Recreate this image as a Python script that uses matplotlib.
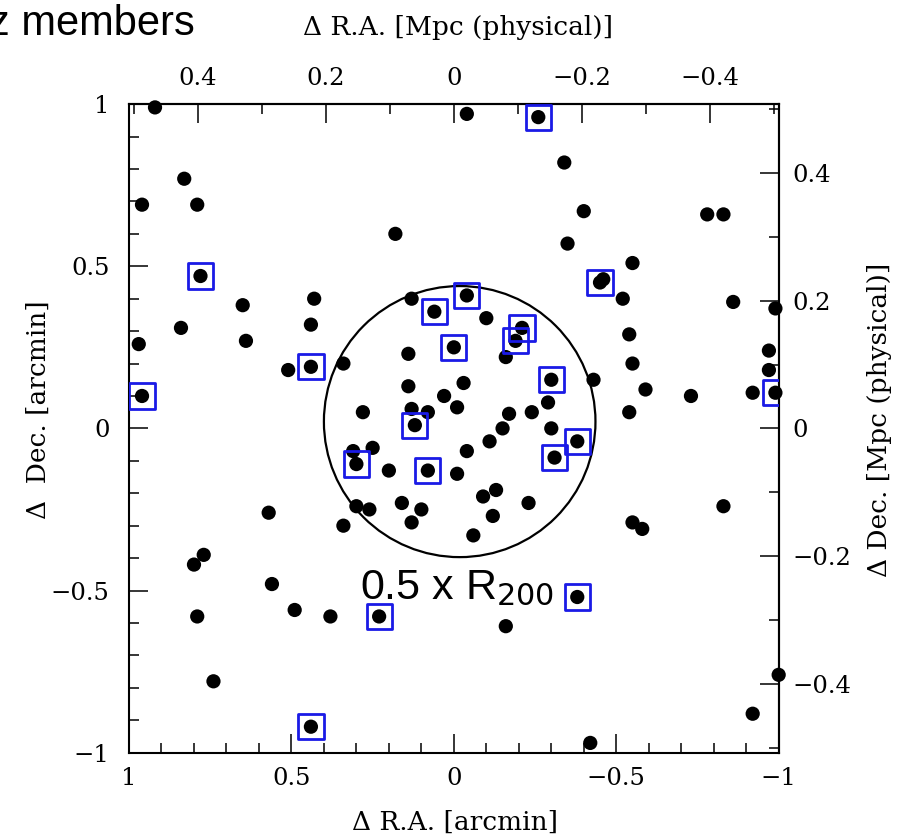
import matplotlib
matplotlib.use("Agg")
import matplotlib.pyplot as plt
from matplotlib.patches import Circle
from matplotlib.ticker import MultipleLocator, FuncFormatter

# offsets of the member galaxies from the cluster centre [arcmin]
RA = [0.92, 0.83, 0.96, 0.79, 0.18, 0.78, 0.65, 0.43, 0.84, 0.44,
      0.97, 0.64, 0.13, 0.06, 0.14, 0.51, 0.44, 0.34, 0.96, 0.14,
      0.28, 0.13, 0.08, 0.12, 0.03, -0.04, -0.26, -0.34, -0.40, -0.78,
      -0.83, -0.35, -0.55, -0.45, -0.46, -0.52, -0.86, -0.99, -0.04, -0.10,
      -0.21, -0.19, -0.16, 0.00, -0.54, -0.55, -0.97, -0.97, -0.30, -0.43,
      -0.03, -0.59, -0.73, -0.92, -0.99, -0.01, -0.29, -0.24, -0.17, -0.54,
      -0.15, -0.30, -0.38, -0.31, -0.11, -0.04, 0.08, -0.01, -0.09, -0.13,
      -0.23, -0.12, -0.06, -0.55, -0.58, -0.83, -0.38, -0.16, -1.00, -0.92,
      -0.42, 0.31, 0.25, 0.30, 0.20, 0.16, 0.30, 0.26, 0.10, 0.13,
      0.34, 0.57, 0.77, 0.80, 0.56, 0.79, 0.49, 0.38, 0.23, 0.74,
      0.44]
DEC = [0.99, 0.77, 0.69, 0.69, 0.60, 0.47, 0.38, 0.40, 0.31, 0.32,
       0.26, 0.27, 0.40, 0.36, 0.23, 0.18, 0.19, 0.20, 0.10, 0.13,
       0.05, 0.06, 0.05, 0.01, 0.10, 0.97, 0.96, 0.82, 0.67, 0.66,
       0.66, 0.57, 0.51, 0.45, 0.46, 0.40, 0.39, 0.37, 0.41, 0.34,
       0.31, 0.27, 0.22, 0.25, 0.29, 0.20, 0.24, 0.18, 0.15, 0.15,
       0.14, 0.12, 0.10, 0.11, 0.11, 0.065, 0.08, 0.05, 0.045, 0.05,
       0.00, 0.00, -0.04, -0.09, -0.04, -0.07, -0.13, -0.14, -0.21, -0.19,
       -0.23, -0.27, -0.33, -0.29, -0.31, -0.24, -0.52, -0.61, -0.76, -0.88,
       -0.97, -0.07, -0.06, -0.11, -0.13, -0.23, -0.24, -0.25, -0.25, -0.29,
       -0.30, -0.26, -0.39, -0.42, -0.48, -0.58, -0.56, -0.58, -0.58, -0.78,
       -0.92]
# 1 = member marked with a blue square
FLAG = [0, 0, 0, 0, 0, 1, 0, 0, 0, 0,
        0, 0, 0, 1, 0, 0, 1, 0, 1, 0,
        0, 0, 0, 1, 0, 0, 1, 0, 0, 0,
        0, 0, 0, 1, 0, 0, 0, 0, 1, 0,
        1, 1, 0, 1, 0, 0, 0, 0, 1, 0,
        0, 0, 0, 0, 1, 0, 0, 0, 0, 0,
        0, 0, 1, 1, 0, 0, 1, 0, 0, 0,
        0, 0, 0, 0, 0, 0, 1, 0, 0, 0,
        0, 0, 0, 1, 0, 0, 0, 0, 0, 0,
        0, 0, 0, 0, 0, 0, 0, 0, 1, 0,
        1]

MPC_PER_ARCMIN = 0.5076
CIRCLE_X, CIRCLE_Y, CIRCLE_R = -0.018, 0.021, 0.418   # 0.5 x R200 [arcmin]

box_ra = [r for r, f in zip(RA, FLAG) if f]
box_dec = [d for d, f in zip(DEC, FLAG) if f]


def fmt(v, pos):
    s = "%g" % round(v, 3)
    if s == "-0":
        s = "0"
    return s.replace("-", "\u2212")


SERIF = "DejaVu Serif"
TICK_FS = 17.5
LABEL_FS = 19

fig = plt.figure(figsize=(9.15, 8.4), dpi=100)
ax = fig.add_axes([0.141, 0.104, 0.710, 0.772])

ax.scatter(RA, DEC, s=105, c="black", edgecolors="none", zorder=3, clip_on=False)
ax.scatter(box_ra, box_dec, s=330, marker="s", facecolors="none",
           edgecolors="#1a1ae6", linewidths=2.0, zorder=4)
ax.add_patch(Circle((CIRCLE_X, CIRCLE_Y), CIRCLE_R, fill=False, lw=1.6,
                    ec="black", zorder=2))
ax.text(0.29, -0.525, r"0.5 x R$_{\mathrm{200}}$", fontsize=31,
        family="Liberation Sans", ha="left", va="baseline", zorder=5)

ax.set_xlim(1, -1)
ax.set_ylim(-1, 1)

for sp in ax.spines.values():
    sp.set_linewidth(1.5)

ax.xaxis.set_major_locator(MultipleLocator(0.5))
ax.xaxis.set_minor_locator(MultipleLocator(0.1))
ax.yaxis.set_major_locator(MultipleLocator(0.5))
ax.yaxis.set_minor_locator(MultipleLocator(0.1))
ax.xaxis.set_major_formatter(FuncFormatter(fmt))
ax.yaxis.set_major_formatter(FuncFormatter(fmt))
ax.tick_params(which="both", direction="in", width=1.1, top=False, right=False)
ax.tick_params(which="major", length=14, pad=10)
ax.tick_params(which="minor", length=7)
ax.tick_params(axis="y", which="major", pad=14)
for lab in ax.get_xticklabels() + ax.get_yticklabels():
    lab.set_fontfamily(SERIF)
    lab.set_fontsize(TICK_FS)

# physical scale on the top and right
sec_x = ax.secondary_xaxis("top", functions=(lambda x: x * MPC_PER_ARCMIN,
                                             lambda x: x / MPC_PER_ARCMIN))
sec_y = ax.secondary_yaxis("right", functions=(lambda y: y * MPC_PER_ARCMIN,
                                               lambda y: y / MPC_PER_ARCMIN))
for sec in (sec_x, sec_y):
    axis = sec.xaxis if sec is sec_x else sec.yaxis
    axis.set_major_locator(MultipleLocator(0.2))
    axis.set_minor_locator(MultipleLocator(0.1))
    axis.set_major_formatter(FuncFormatter(fmt))
    sec.tick_params(which="both", direction="in", width=1.1)
    sec.tick_params(which="major", length=14, pad=10)
    sec.tick_params(which="minor", length=7)
    for sp in sec.spines.values():
        sp.set_linewidth(1.5)
    for lab in axis.get_ticklabels():
        lab.set_fontfamily(SERIF)
        lab.set_fontsize(TICK_FS)

fig.text(455 / 915, 1 - 822 / 840, "\u0394 R.A. [arcmin]", family=SERIF,
         fontsize=LABEL_FS, ha="center", va="center")
fig.text(458 / 915, 1 - 28 / 840, "\u0394 R.A. [Mpc (physical)]", family=SERIF,
         fontsize=LABEL_FS, ha="center", va="center")
fig.text(38 / 915, 1 - 410 / 840, "\u0394  Dec. [arcmin]", family=SERIF,
         fontsize=LABEL_FS, ha="center", va="center", rotation=90)
fig.text(880 / 915, 1 - 420 / 840, "\u0394 Dec. [Mpc (physical)]", family=SERIF,
         fontsize=LABEL_FS, ha="center", va="center", rotation=90)

fig.text(-11 / 915, 1 - 35 / 840, "z members", family="Liberation Sans",
         fontsize=30, ha="left", va="baseline")

fig.savefig("out.png", dpi=100)
